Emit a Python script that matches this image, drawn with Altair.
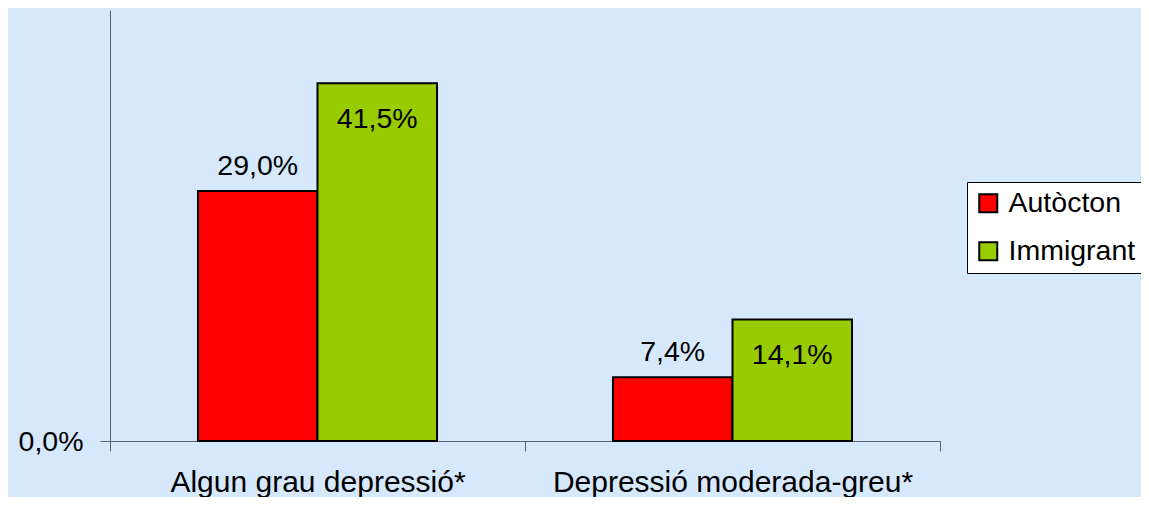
import altair as alt
import pandas as pd

categories = ["Algun grau depressió*", "Depressió moderada-greu*"]
groups = ["Autòcton", "Immigrant"]
autocton = [29.0, 7.4]
immigrant = [41.5, 14.1]
colors = ["#FF0000", "#99CC00"]

rows = []
for c, a, i in zip(categories, autocton, immigrant):
    rows.append({"cat": c, "grup": groups[0], "valor": a})
    rows.append({"cat": c, "grup": groups[1], "valor": i})
df = pd.DataFrame(rows)

FONT = "Liberation Sans"
FS = 28.5
AXIS_COLOR = "#5a6470"
BG = "#D5E8FC"

x = alt.X(
    "cat:N", sort=categories, title=None,
    scale=alt.Scale(paddingInner=0, paddingOuter=0),
    axis=alt.Axis(labelAngle=0, tickBand="extent", tickSize=10, labelPadding=40,
                  labelBaseline="alphabetic", labelFontSize=30, labelFont=FONT,
                  labelColor="black", domainColor=AXIS_COLOR, tickColor=AXIS_COLOR,
                  grid=False, labelLimit=0),
)
xo = alt.XOffset("grup:N", sort=groups, scale=alt.Scale(paddingOuter=0.736, paddingInner=0))
y = alt.Y(
    "valor:Q", title=None,
    scale=alt.Scale(domain=[0, 50], nice=False, zero=True),
    axis=alt.Axis(values=[0],
                  labelExpr="replace(format(datum.value, '.1f'), '.', ',') + '%'",
                  tickSize=10, labelPadding=17, labelFontSize=FS, labelFont=FONT,
                  labelColor="black", domainColor=AXIS_COLOR, tickColor=AXIS_COLOR,
                  grid=False),
)
color = alt.Color(
    "grup:N", sort=groups,
    scale=alt.Scale(domain=groups, range=colors),
    legend=alt.Legend(title=None, orient="none", legendX=857, legendY=172,
                      fillColor="white", strokeColor="black", padding=7,
                      symbolType="square", symbolSize=324, symbolStrokeColor="black",
                      symbolStrokeWidth=2, symbolOpacity=1, labelFontSize=FS,
                      labelFont=FONT, labelColor="black", labelOffset=6, rowPadding=19),
)

base = alt.Chart(df).transform_calculate(
    label="replace(format(datum.valor, '.1f'), '.', ',') + '%'"
)

bars = base.mark_bar(stroke="black", strokeWidth=2, opacity=1).encode(
    x=x, xOffset=xo, y=y, color=color
)

txt_a = base.transform_filter(alt.datum.grup == groups[0]).mark_text(
    dy=-16, baseline="alphabetic", fontSize=FS, font=FONT, color="black"
).encode(x=x, xOffset=xo, y=y, text="label:N")

txt_b = base.transform_filter(alt.datum.grup == groups[1]).mark_text(
    dy=45, baseline="alphabetic", fontSize=FS, font=FONT, color="black"
).encode(x=x, xOffset=xo, y=y, text="label:N")

chart = alt.layer(bars, txt_a, txt_b).properties(
    width=830, height=431,
    autosize=alt.AutoSizeParams(type="none"),
    padding={"left": 102, "top": 2, "right": 201, "bottom": 56},
    background=BG,
).configure_view(stroke=None)

chart.save("out.html", embed_options={"renderer": "svg", "actions": False})
